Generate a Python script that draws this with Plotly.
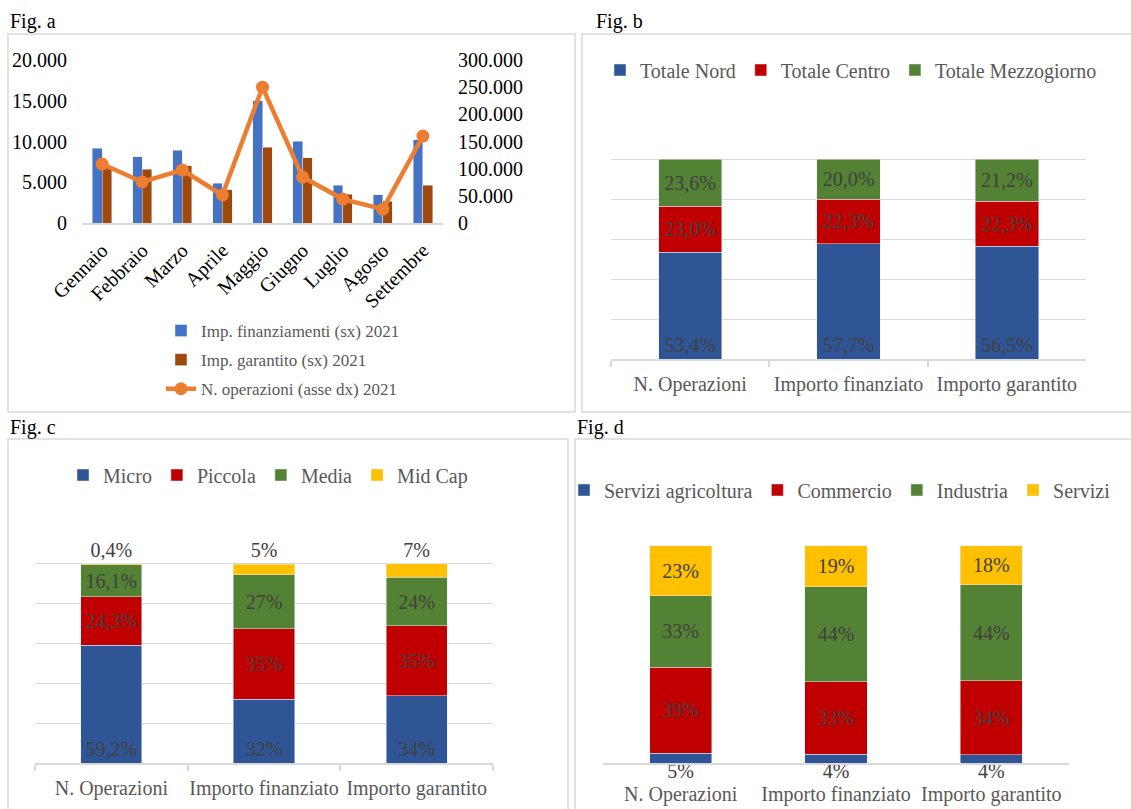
import plotly.graph_objects as go

W, H = 1131, 809
FONT = "Liberation Serif"
GRID = "#D9D9D9"
TXT = "#595959"
LBL = "#404040"

# ---------------- data ----------------
# Fig a
months = ["Gennaio", "Febbraio", "Marzo", "Aprile", "Maggio", "Giugno", "Luglio", "Agosto", "Settembre"]
imp_finanziamenti = [9200, 8100, 8950, 4900, 15000, 10050, 4650, 3450, 10200]
imp_garantito = [6900, 6600, 7000, 4050, 9300, 8000, 3550, 2700, 4650]
n_operazioni = [108500, 75500, 97500, 51500, 250000, 84500, 44000, 25500, 160000]

# Fig b
categories = ["N. Operazioni", "Importo finanziato", "Importo garantito"]
totale_nord = [53.4, 57.7, 56.5]
totale_centro = [23.0, 22.3, 22.3]
totale_mezzogiorno = [23.6, 20.0, 21.2]

# Fig c
micro = [59.2, 32.1, 33.7]
piccola = [24.3, 35.2, 35.1]
media = [16.1, 27.1, 24.4]
mid_cap = [0.4, 5.4, 6.8]
c_label_formats = ["%{y:.1f}%", "%{y:.0f}%", "%{y:.0f}%"]

# Fig d
servizi_agricoltura = [4.6, 4.1, 3.7]
commercio = [39.4, 33.2, 34.1]
industria = [33.0, 43.8, 44.2]
servizi = [23.0, 18.9, 18.0]

BLUE_A, BROWN_A, ORANGE_A = "#4472C4", "#9E480E", "#ED7D31"
BLUE, RED, GREEN, YELLOW = "#2F5597", "#C00000", "#548235", "#FFC000"


def px(x):
    return x / W


def py(y):
    return 1 - y / H


fig = go.Figure()

# ---------------- Fig a ----------------
fig.add_trace(go.Bar(x=months, y=imp_finanziamenti, name="Imp. finanziamenti (sx) 2021",
                     marker_color=BLUE_A, width=0.24, offset=-0.24,
                     xaxis="x", yaxis="y", legend="legend", legendgroup="a1"))
fig.add_trace(go.Bar(x=months, y=imp_garantito, name="Imp. garantito (sx) 2021",
                     marker_color=BROWN_A, width=0.24, offset=0,
                     xaxis="x", yaxis="y2", legend="legend", legendgroup="a2"))
fig.add_trace(go.Scatter(x=months, y=n_operazioni, name="N. operazioni (asse dx) 2021",
                         mode="lines+markers", line=dict(color=ORANGE_A, width=4.5),
                         marker=dict(color=ORANGE_A, size=13),
                         xaxis="x", yaxis="y3", legend="legend", legendgroup="a3"))

# ---------------- Fig b ----------------
bar_common = dict(width=0.4, textfont=dict(family=FONT, size=20, color=LBL), textangle=0,
                  constraintext="none", insidetextfont=dict(family=FONT, size=20, color=LBL))
fig.add_trace(go.Bar(x=categories, y=totale_nord, name="Totale Nord", marker_color=BLUE,
                     texttemplate="%{y:.1f}%", textposition="inside", insidetextanchor="start",
                     xaxis="x2", yaxis="y4", legend="legend2", **bar_common))
fig.add_trace(go.Bar(x=categories, y=totale_centro, name="Totale Centro", marker_color=RED,
                     texttemplate="%{y:.1f}%", textposition="inside", insidetextanchor="middle",
                     xaxis="x2", yaxis="y4", legend="legend2", **bar_common))
fig.add_trace(go.Bar(x=categories, y=totale_mezzogiorno, name="Totale Mezzogiorno", marker_color=GREEN,
                     texttemplate="%{y:.1f}%", textposition="inside", insidetextanchor="middle",
                     xaxis="x2", yaxis="y4", legend="legend2", **bar_common))

# ---------------- Fig c ----------------
fig.add_trace(go.Bar(x=categories, y=micro, name="Micro", marker_color=BLUE,
                     texttemplate=c_label_formats, textposition="inside", insidetextanchor="start",
                     xaxis="x3", yaxis="y5", legend="legend3", **bar_common))
fig.add_trace(go.Bar(x=categories, y=piccola, name="Piccola", marker_color=RED,
                     texttemplate=c_label_formats, textposition="inside", insidetextanchor="middle",
                     xaxis="x3", yaxis="y5", legend="legend3", **bar_common))
fig.add_trace(go.Bar(x=categories, y=media, name="Media", marker_color=GREEN,
                     texttemplate=c_label_formats, textposition="inside", insidetextanchor="middle",
                     xaxis="x3", yaxis="y5", legend="legend3", **bar_common))
fig.add_trace(go.Bar(x=categories, y=mid_cap, name="Mid Cap", marker_color=YELLOW,
                     texttemplate=c_label_formats, textposition="outside",
                     outsidetextfont=dict(family=FONT, size=20, color=LBL), cliponaxis=False,
                     xaxis="x3", yaxis="y5", legend="legend3", **bar_common))

# ---------------- Fig d ----------------
fig.add_trace(go.Bar(x=categories, y=servizi_agricoltura, name="Servizi agricoltura", marker_color=BLUE,
                     textposition="none",
                     xaxis="x4", yaxis="y6", legend="legend4", **bar_common))
fig.add_trace(go.Bar(x=categories, y=commercio, name="Commercio", marker_color=RED,
                     texttemplate="%{y:.0f}%", textposition="inside", insidetextanchor="middle",
                     xaxis="x4", yaxis="y6", legend="legend4", **bar_common))
fig.add_trace(go.Bar(x=categories, y=industria, name="Industria", marker_color=GREEN,
                     texttemplate="%{y:.0f}%", textposition="inside", insidetextanchor="middle",
                     xaxis="x4", yaxis="y6", legend="legend4", **bar_common))
fig.add_trace(go.Bar(x=categories, y=servizi, name="Servizi", marker_color=YELLOW,
                     texttemplate="%{y:.0f}%", textposition="inside", insidetextanchor="middle",
                     xaxis="x4", yaxis="y6", legend="legend4", **bar_common))
fig.add_trace(go.Scatter(x=categories, y=[0] * len(categories), customdata=servizi_agricoltura,
                         mode="text", texttemplate="%{customdata:.0f}%", textposition="bottom center",
                         textfont=dict(family=FONT, size=20, color=LBL), cliponaxis=False,
                         showlegend=False, hoverinfo="skip", xaxis="x4", yaxis="y6"))

# ---------------- layout ----------------
tick_font = dict(family=FONT, size=20, color=TXT)
cat_x = dict(type="category", range=[-0.5, 2.5], showline=True, linecolor=GRID, linewidth=1.5,
             showgrid=False, zeroline=False, tickfont=tick_font, tickangle=0, fixedrange=True)
pct_y = dict(range=[0, 120], dtick=20, showgrid=True, gridcolor=GRID, gridwidth=1.3,
             showticklabels=False, zeroline=False, showline=False, ticks="", fixedrange=True)
leg_h = dict(orientation="h", xanchor="center", yanchor="middle", traceorder="normal",
             bgcolor="rgba(0,0,0,0)", font=dict(family=FONT, size=20, color=TXT))

layout = dict(
    width=W, height=H, margin=dict(l=0, r=0, t=0, b=0, autoexpand=False),
    paper_bgcolor="white", plot_bgcolor="rgba(0,0,0,0)",
    barmode="stack", separators=",.",
    font=dict(family=FONT, size=20, color=TXT),
    # Fig a axes
    xaxis=dict(domain=[px(82), px(443)], anchor="y", type="category", range=[-0.5, 8.5],
               showline=True, linecolor=GRID, linewidth=1.5, showgrid=False, zeroline=False,
               tickangle=-45, ticks="", ticklabelstandoff=6,
               tickfont=dict(family=FONT, size=20, color="#000000")),
    yaxis=dict(domain=[py(223), py(60)], anchor="x", range=[0, 20000], dtick=5000, tickformat=",d",
               showgrid=False, zeroline=False, showline=False, ticks="", ticklabelstandoff=14,
               tickfont=dict(family=FONT, size=20, color="#000000")),
    yaxis2=dict(overlaying="y", anchor="x", range=[0, 20000], visible=False),
    yaxis3=dict(overlaying="y", anchor="x", side="right", range=[0, 300000], dtick=50000, tickformat=",d",
                showgrid=False, zeroline=False, showline=False, ticks="", ticklabelstandoff=14,
                tickfont=dict(family=FONT, size=20, color="#000000")),
    # Fig b axes
    xaxis2=dict(domain=[px(611), px(1086)], anchor="y4", ticks="outside", tickson="boundaries",
                ticklen=6, tickcolor=GRID, tickwidth=1.5, ticklabelstandoff=6, **cat_x),
    yaxis4=dict(domain=[py(359), py(119)], anchor="x2", **pct_y),
    # Fig c axes
    xaxis3=dict(domain=[px(35), px(493)], anchor="y5", ticks="outside", tickson="boundaries",
                ticklen=6, tickcolor=GRID, tickwidth=1.5, ticklabelstandoff=6, **cat_x),
    yaxis5=dict(domain=[py(763), py(524)], anchor="x3", **pct_y),
    # Fig d axes
    xaxis4=dict(domain=[px(603), px(1069)], anchor="y6", ticks="", ticklabelstandoff=12, **cat_x),
    yaxis6=dict(domain=[py(763), py(502)], anchor="x4", range=[0, 120], showgrid=False,
                showticklabels=False, zeroline=False, showline=False, fixedrange=True),
    # legends
    legend=dict(x=px(161), y=py(313), xanchor="left", yanchor="top", orientation="v",
                traceorder="grouped", tracegroupgap=4, bgcolor="rgba(0,0,0,0)",
                font=dict(family=FONT, size=17, color=TXT)),
    legend2=dict(x=px(851), y=py(70), **leg_h),
    legend3=dict(x=px(268), y=py(475), **leg_h),
    legend4=dict(x=px(840), y=py(490), **leg_h),
)

# panel frames
frames = [(8, 34, 575, 412), (582, 34, 1140, 412), (8, 439, 568, 820), (575, 439, 1140, 820)]
layout["shapes"] = [dict(type="rect", xref="paper", yref="paper", x0=px(a), x1=px(c), y0=py(d), y1=py(b),
                         line=dict(color=GRID, width=1.5), fillcolor="rgba(0,0,0,0)", layer="below")
                    for a, b, c, d in frames]

# panel titles
titles = [("Fig. a", 8, 21), ("Fig. b", 594, 21), ("Fig. c", 8, 427), ("Fig. d", 575, 427)]
layout["annotations"] = [dict(text=t, xref="paper", yref="paper", x=px(x), y=py(y), xanchor="left",
                              yanchor="middle", showarrow=False,
                              font=dict(family=FONT, size=20, color="#000000"))
                         for t, x, y in titles]

fig.update_layout(**layout)
fig.write_html("out.html")
